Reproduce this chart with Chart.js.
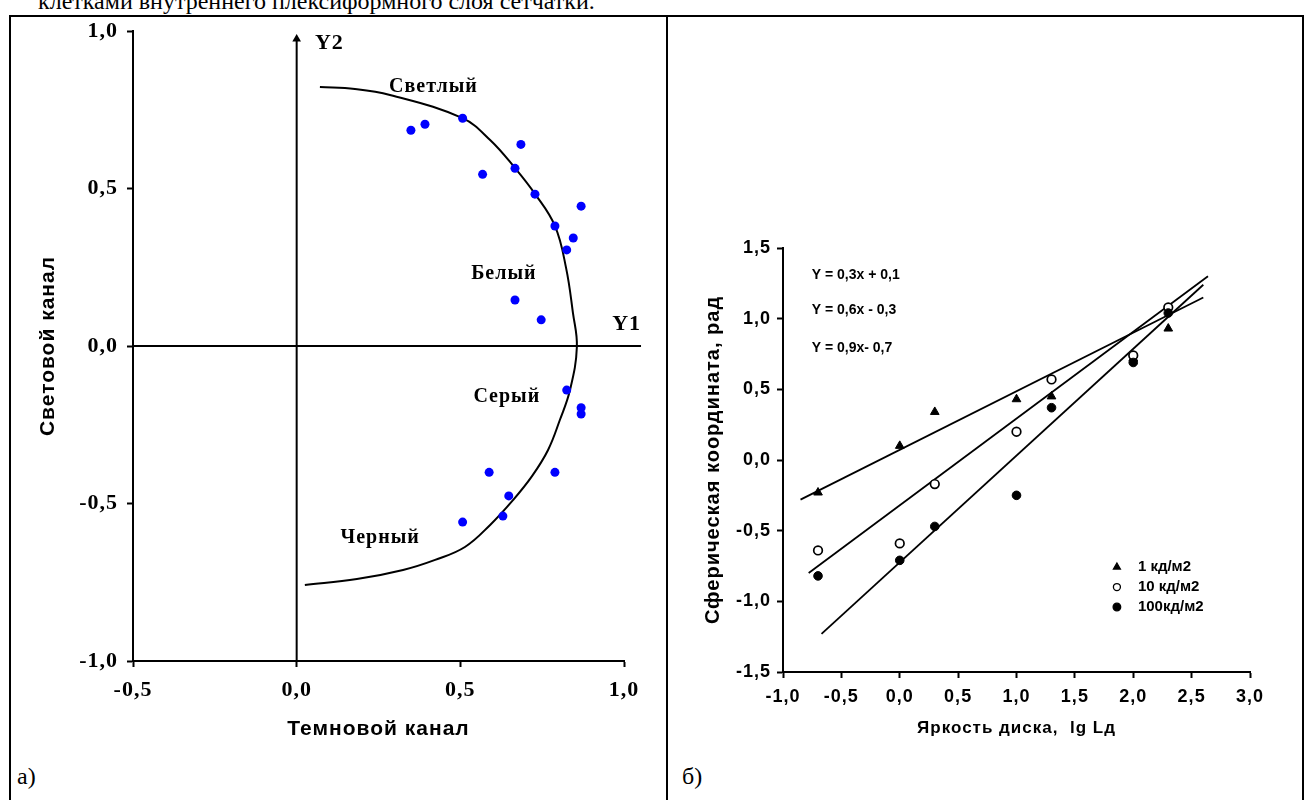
<!DOCTYPE html>
<html>
<head>
<meta charset="utf-8">
<script src="https://cdn.jsdelivr.net/npm/chart.js@4.4.1/dist/chart.umd.min.js"></script>
<style>
  body { margin: 0; width: 1306px; height: 800px; overflow: hidden; position: relative; background: #fff; }
  #topline { position: absolute; left: 38px; top: -11px; font: 24px/24px "Liberation Serif"; white-space: nowrap; color: #000; }
  .rule { position: absolute; background: #000; }
  .tag { position: absolute; font: 24px/24px "Liberation Serif"; color: #000; }
  canvas { position: absolute; top: 0; }
</style>
</head>
<body>
<div id="topline">клетками внутреннего плексиформного слоя сетчатки.</div>
<div class="rule" style="left:9px;top:15px;width:1295px;height:2px"></div>
<div class="rule" style="left:9px;top:15px;width:2px;height:790px"></div>
<div class="rule" style="left:1302px;top:15px;width:2px;height:790px"></div>
<div class="rule" style="left:666px;top:15px;width:2px;height:790px"></div>
<div class="tag" style="left:17px;top:764px">а)</div>
<div class="tag" style="left:682px;top:764px">б)</div>
<canvas id="left" width="666" height="800" style="left:0"></canvas>
<canvas id="right" width="640" height="800" style="left:666px"></canvas>
<script>
// panel a: arc drawn through the figure, read point by point
const arcX = [0.071, 0.178, 0.285, 0.505, 0.591, 0.667, 0.728, 0.789, 0.823, 0.844, 0.856,
              0.835, 0.804, 0.768, 0.719, 0.661, 0.591, 0.514, 0.423, 0.325, 0.184, 0.025];
const arcY = [0.822, 0.816, 0.797, 0.724, 0.654, 0.565, 0.483, 0.381, 0.248, 0.105, -0.003,
              -0.140, -0.235, -0.330, -0.413, -0.489, -0.568, -0.638, -0.679, -0.711, -0.740, -0.759];

// panel a: cell responses
const cellX = [0.349, 0.392, 0.507, 0.685, 0.568, 0.667, 0.728, 0.869, 0.789, 0.845, 0.825, 0.667, 0.747,
               0.825, 0.869, 0.869, 0.588, 0.789, 0.648, 0.630, 0.507];
const cellY = [0.685, 0.704, 0.723, 0.640, 0.545, 0.564, 0.482, 0.444, 0.381, 0.343, 0.305, 0.146, 0.083,
               -0.140, -0.196, -0.216, -0.401, -0.401, -0.476, -0.540, -0.559];

// panel a: Y1 / Y2 axes of the sphere
const y2AxisX = [0, 0], y2AxisY = [-1, 0.975];
const y1AxisX = [-0.5, 1.052], y1AxisY = [0, 0];

// panel b: disc brightness and spherical coordinate
const lumX = [-0.7, 0.0, 0.3, 1.0, 1.3, 2.0, 2.3];
const sph1 = [-0.23, 0.10, 0.34, 0.43, 0.45, 0.72, 0.93];
const sph10 = [-0.64, -0.59, -0.17, 0.20, 0.57, 0.74, 1.08];
const sph100 = [-0.82, -0.71, -0.47, -0.25, 0.37, 0.69, 1.04];

// panel b: fitted lines, ends as drawn
const fit1X = [-0.85, 2.60], fit1Y = [-0.28, 1.15];
const fit10X = [-0.78, 2.64], fit10Y = [-0.80, 1.30];
const fit100X = [-0.67, 2.60], fit100Y = [-1.23, 1.24];

const seriesNames = ['1 кд/м2', '10 кд/м2', '100кд/м2'];
const fitLabels = ['Y = 0,3x + 0,1', 'Y = 0,6x - 0,3', 'Y = 0,9x- 0,7'];

const pts = (xs, ys) => xs.map((x, i) => ({ x: x, y: ys[i] }));
const comma = v => Number(v).toFixed(1).replace('.', ',');

// the scanned figure has loosely tracked text, so spacing is set per chart
const notes = {
  id: 'notes',
  beforeDraw(chart, args, opts) {
    chart.ctx.letterSpacing = opts.axisSpacing || '0px';
  },
  beforeDatasetsDraw(chart, args, opts) {
    chart.ctx.letterSpacing = opts.noteSpacing || '0px';
  },
  afterDatasetsDraw(chart, args, opts) {
    const { ctx, scales: { x, y } } = chart;
    ctx.save();
    ctx.fillStyle = '#000';
    ctx.textBaseline = 'middle';
    (opts.items || []).forEach(it => {
      ctx.font = it.font;
      ctx.textAlign = it.align || 'center';
      ctx.fillText(it.text, x.getPixelForValue(it.x), y.getPixelForValue(it.y));
    });
    (opts.keys || []).forEach(k => {
      const px = x.getPixelForValue(k.x), py = y.getPixelForValue(k.y);
      ctx.fillStyle = k.fill;
      ctx.strokeStyle = '#000';
      ctx.lineWidth = 1.3;
      Chart.helpers.drawPoint(ctx, { pointStyle: k.style, radius: k.r, rotation: 0, borderWidth: 1.3 }, px, py);
      ctx.fillStyle = '#000';
      ctx.font = 'bold 15px "Liberation Sans"';
      ctx.textAlign = 'left';
      ctx.fillText(k.text, px + 21, py);
    });
    ctx.restore();
  },
  afterDraw(chart) {
    chart.ctx.letterSpacing = '0px';
  }
};

function axis(min, max, font, pad, title, titleFont, titlePad, fit) {
  return {
    type: 'linear', min: min, max: max,
    ticks: { stepSize: 0.5, callback: comma, color: '#000', font: font, padding: pad, maxRotation: 0, autoSkip: false },
    grid: { drawOnChartArea: false, drawTicks: true, tickLength: 6, color: '#000', tickWidth: 2 },
    border: { display: true, color: '#000', width: 2 },
    title: { display: true, text: title, color: '#000', font: titleFont, padding: titlePad },
    afterFit: fit
  };
}

const serifTick = { family: 'Liberation Serif', size: 22, weight: 'bold' };
const sansTitle = { family: 'Liberation Sans', size: 21, weight: 'bold' };
const noteFont = 'bold 20px "Liberation Serif"';

new Chart(document.getElementById('left'), {
  type: 'scatter',
  data: {
    datasets: [
      { data: pts(cellX, cellY), pointRadius: 4.5, pointBackgroundColor: '#0000ff', pointBorderWidth: 0 },
      { data: pts(arcX, arcY), showLine: true, tension: 0.4, borderColor: '#000', borderWidth: 2, pointRadius: 0, fill: false },
      { data: pts(y2AxisX, y2AxisY), showLine: true, borderColor: '#000', borderWidth: 2,
        pointRadius: [0, 5], pointStyle: 'triangle', pointBackgroundColor: '#000', pointBorderWidth: 0, clip: false },
      { data: pts(y1AxisX, y1AxisY), showLine: true, borderColor: '#000', borderWidth: 2,
        pointRadius: [0, 5], pointStyle: 'triangle', pointRotation: 90, pointBackgroundColor: '#000', pointBorderWidth: 0, clip: false }
    ]
  },
  options: {
    responsive: false,
    animation: false,
    layout: { padding: { left: 32, right: 42, top: 31, bottom: 49 } },
    scales: {
      x: axis(-0.5, 1.0, serifTick, 10, 'Темновой канал', sansTitle, { top: 0, bottom: 9 }, s => { s.height = 90; }),
      y: axis(-1.0, 1.0, serifTick, 9, 'Световой канал', sansTitle, { top: 4, bottom: 0 }, s => { s.width = 101; })
    },
    plugins: {
      legend: { display: false },
      tooltip: { enabled: false },
      notes: {
        axisSpacing: '1px',
        noteSpacing: '1px',
        items: [
          { text: 'Светлый', x: 0.418, y: 0.822, font: noteFont },
          { text: 'Белый', x: 0.633, y: 0.229, font: noteFont },
          { text: 'Серый', x: 0.642, y: -0.162, font: noteFont },
          { text: 'Черный', x: 0.255, y: -0.61, font: noteFont },
          { text: 'Y2', x: 0.10, y: 0.962, font: 'bold 22px "Liberation Serif"' },
          { text: 'Y1', x: 1.008, y: 0.07, font: 'bold 22px "Liberation Serif"' }
        ]
      }
    }
  },
  plugins: [notes]
});

const sansTick = { family: 'Liberation Sans', size: 18, weight: 'bold' };
const sansTitleX = { family: 'Liberation Sans', size: 17, weight: 'bold' };
const sansTitleY = { family: 'Liberation Sans', size: 20, weight: 'bold' };

new Chart(document.getElementById('right'), {
  type: 'scatter',
  data: {
    datasets: [
      { label: seriesNames[2], data: pts(lumX, sph100), pointStyle: 'circle', pointRadius: 4.3,
        pointBackgroundColor: '#000', pointBorderColor: '#000', pointBorderWidth: 1 },
      { label: seriesNames[1], data: pts(lumX, sph10), pointStyle: 'circle', pointRadius: 4.3,
        pointBackgroundColor: '#fff', pointBorderColor: '#000', pointBorderWidth: 1.7 },
      { label: seriesNames[0], data: pts(lumX, sph1), pointStyle: 'triangle', pointRadius: 5,
        pointBackgroundColor: '#000', pointBorderColor: '#000', pointBorderWidth: 1 },
      { data: pts(fit1X, fit1Y), showLine: true, borderColor: '#000', borderWidth: 1.8, pointRadius: 0 },
      { data: pts(fit10X, fit10Y), showLine: true, borderColor: '#000', borderWidth: 1.8, pointRadius: 0 },
      { data: pts(fit100X, fit100Y), showLine: true, borderColor: '#000', borderWidth: 1.8, pointRadius: 0 }
    ]
  },
  options: {
    responsive: false,
    animation: false,
    layout: { padding: { left: 31, right: 56, top: 248, bottom: 58 } },
    scales: {
      x: axis(-1.0, 3.0, sansTick, 8, 'Яркость диска,  lg Lд', sansTitleX, { top: 0, bottom: 3 }, s => { s.height = 70; }),
      y: axis(-1.5, 1.5, sansTick, 6, 'Сферическая координата, рад', sansTitleY, { top: 4, bottom: 0 }, s => { s.width = 86; })
    },
    plugins: {
      legend: { display: false },
      tooltip: { enabled: false },
      notes: {
        axisSpacing: '1px',
        noteSpacing: '0px',
        items: [
          { text: fitLabels[0], x: -0.754, y: 1.31, font: 'bold 14px "Liberation Sans"', align: 'left' },
          { text: fitLabels[1], x: -0.754, y: 1.06, font: 'bold 14px "Liberation Sans"', align: 'left' },
          { text: fitLabels[2], x: -0.754, y: 0.79, font: 'bold 14px "Liberation Sans"', align: 'left' }
        ],
        keys: [
          { text: seriesNames[0], style: 'triangle', fill: '#000', r: 4, x: 1.86, y: -0.757 },
          { text: seriesNames[1], style: 'circle', fill: '#fff', r: 3.5, x: 1.86, y: -0.899 },
          { text: seriesNames[2], style: 'circle', fill: '#000', r: 3.8, x: 1.86, y: -1.04 }
        ]
      }
    }
  },
  plugins: [notes]
});
</script>
</body>
</html>
